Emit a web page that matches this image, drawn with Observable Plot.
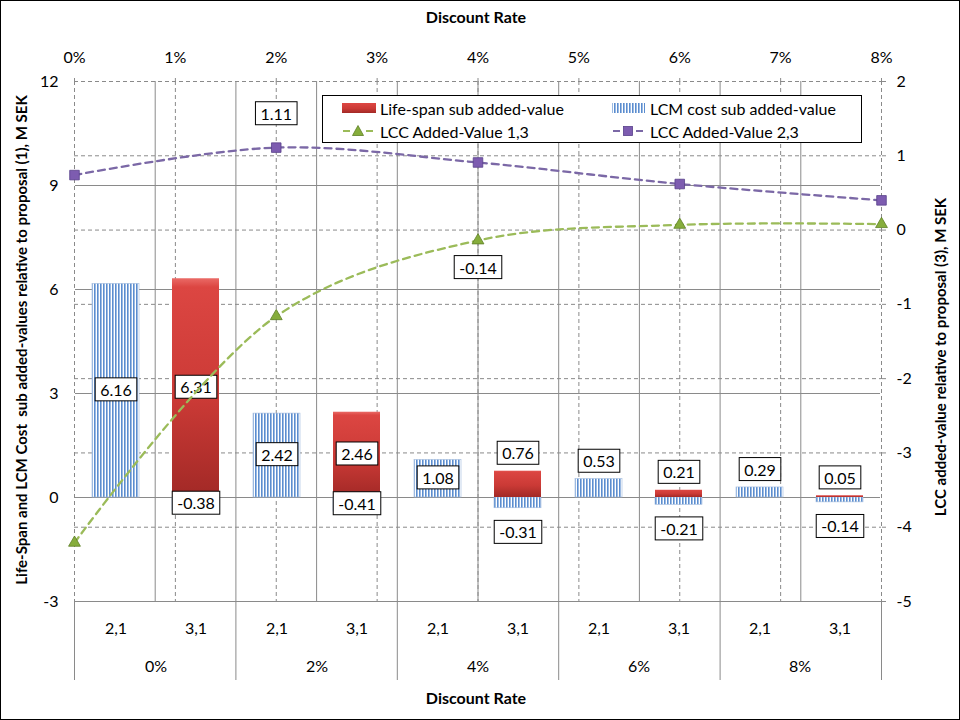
<!DOCTYPE html>
<html>
<head>
<meta charset="utf-8">
<script src="https://cdn.jsdelivr.net/npm/d3@7"></script>
<script src="https://cdn.jsdelivr.net/npm/@observablehq/plot@0.6"></script>
<style>
  body { margin: 0; background: #fff; }
  #chart { position: relative; width: 960px; height: 720px; background: #fff; overflow: hidden;
           font-family: Lato, "Noto Sans", sans-serif; color: #000; }
  #chart > svg.layer { position: absolute; left: 0; top: 0; }
  #frame { position: absolute; left: 0; top: 0; width: 960px; height: 720px; box-sizing: border-box;
           border: 1px solid #000; pointer-events: none; }
  .ttl { position: absolute; font-weight: bold; font-size: 16px; white-space: nowrap; }
  .rot { transform: translate(-50%, -50%) rotate(-90deg); }
  #legend { position: absolute; left: 322px; top: 95px; width: 540px; height: 48px; box-sizing: border-box;
            border: 1px solid #000; background: #fff; font-size: 16px; }
  .li { position: absolute; display: flex; align-items: center; white-space: nowrap; height: 20px; }
  .li svg { margin-right: 3px; }
</style>
</head>
<body>
<svg width="0" height="0" style="position:absolute">
  <defs>
    <linearGradient id="redGrad" x1="0" y1="0" x2="0" y2="1">
      <stop offset="0" stop-color="#ea6a66"/>
      <stop offset="0.04" stop-color="#dc4642"/>
      <stop offset="0.55" stop-color="#cb3a36"/>
      <stop offset="1" stop-color="#a22926"/>
    </linearGradient>
    <pattern id="stripes" patternUnits="userSpaceOnUse" width="3" height="6">
      <rect x="0" y="0" width="3" height="6" fill="#ffffff"/>
      <rect x="0" y="0" width="1.6" height="6" fill="#5b8dcf"/>
    </pattern>
  </defs>
</svg>
<div id="chart">
  <div class="ttl" style="left:476px;top:16px;transform:translate(-50%,-50%)">Discount Rate</div>
  <div class="ttl" style="left:476px;top:697px;transform:translate(-50%,-50%)">Discount Rate</div>
  <div class="ttl rot" style="left:21px;top:340px;font-size:15px">Life-Span and LCM Cost&nbsp; sub added-values relative to proposal (1), M SEK</div>
  <div class="ttl rot" style="left:940px;top:357px;font-size:15px">LCC added-value relative to proposal (3), M SEK</div>
</div>
<script>
// ---------------- data ----------------
const rates = ["0%", "2%", "4%", "6%", "8%"];
const rateNum = [0, 0.02, 0.04, 0.06, 0.08];
const proposals = ["2,1", "3,1"];
const lifeSpan21 = [0, 0, 0, 0, 0];
const lifeSpan31 = [6.31, 2.46, 0.76, 0.21, 0.05];
const lcmCost21 = [6.16, 2.42, 1.08, 0.53, 0.29];
const lcmCost31 = [-0.38, -0.41, -0.31, -0.21, -0.14];
const lcc13 = [-4.21, -1.16, -0.14, 0.07, 0.08];
const lcc23 = [0.74, 1.11, 0.91, 0.62, 0.40];
const lcc13Labelled = [0.04];
const lcc23Labelled = [0.02];
const leftTicks = [-3, 0, 3, 6, 9, 12];
const rightTicks = [-5, -4, -3, -2, -1, 0, 1, 2];
const topTicks = [0, 0.01, 0.02, 0.03, 0.04, 0.05, 0.06, 0.07, 0.08];
const seriesNames = ["Life-span sub added-value", "LCM cost sub added-value", "LCC Added-Value 1,3", "LCC Added-Value 2,3"];

// ---------------- layout / style ----------------
const W = 960, H = 720, mL = 74, mR = 79, mT = 81, mB = 119;
const FONT = 'Lato, "Noto Sans", sans-serif';
const GRID = "#8a8a8a";
const GREEN = "#9bbb59", PURPLE = "#7b68a6";
const intFmt = d => String(d);
const base = {width: W, height: H, marginLeft: mL, marginRight: mR, marginTop: mT, marginBottom: mB,
  style: {background: "transparent", fontFamily: FONT, fontSize: "16px", color: "#000", overflow: "visible"}};

const nCats = rates.length * proposals.length;
const span = rateNum[rateNum.length - 1] - rateNum[0];
const catBounds = d3.range(1, nCats).map(i => rateNum[0] + i * span / nCats);
const groupBounds = d3.range(0, rates.length + 1).map(i => rateNum[0] + i * span / rates.length);

// ---------------- layer 1: dashed grid, top & right axes ----------------
const gridPlot = Plot.plot({
  ...base,
  x: {domain: [rateNum[0], rateNum[rateNum.length - 1]]},
  y: {domain: [rightTicks[0], rightTicks[rightTicks.length - 1]]},
  marks: [
    Plot.ruleY(rightTicks, {stroke: GRID, strokeDasharray: "4,3"}),
    Plot.ruleX(topTicks, {stroke: GRID, strokeDasharray: "4,3"}),
    Plot.ruleX(catBounds, {stroke: GRID}),
    Plot.ruleX(groupBounds, {stroke: GRID, insetTop: H - mT - mB, insetBottom: -79}),
    Plot.axisX(topTicks, {anchor: "top", tickFormat: d3.format(".0%"), tickSize: 4, tickPadding: 15,
      stroke: GRID, fill: "#000", label: null}),
    Plot.axisY(rightTicks, {anchor: "right", tickFormat: intFmt, tickSize: 4, tickPadding: 11, stroke: GRID, fill: "#000", label: null})
  ]
});

// ---------------- layer 2: bars ----------------
const barRows = rates.flatMap((r, i) => [
  {rate: r, prop: proposals[0], series: "lcm", value: lcmCost21[i]},
  {rate: r, prop: proposals[1], series: "lcm", value: lcmCost31[i]},
  {rate: r, prop: proposals[0], series: "life", value: lifeSpan21[i]},
  {rate: r, prop: proposals[1], series: "life", value: lifeSpan31[i]}
]).filter(d => d.value !== 0);
const inside = d => d.value >= 1 || d.value <= -0.35;
const fmt = v => v.toFixed(2);

const barPlot = Plot.plot({
  ...base,
  fx: {domain: rates, padding: 0, axis: "bottom", tickSize: 0, tickPadding: 59, label: null},
  x: {domain: proposals, paddingInner: 0.41, paddingOuter: 0.205, axis: "bottom", tickSize: 0, tickPadding: 21, label: null},
  y: {domain: [leftTicks[0], leftTicks[leftTicks.length - 1]], ticks: leftTicks, tickFormat: intFmt, axis: "left", tickSize: 0, tickPadding: 17, label: null},
  marks: [
    Plot.ruleY(leftTicks.slice(0, -1), {stroke: GRID}),
    Plot.barY(barRows.filter(d => d.series === "lcm"), {fx: "rate", x: "prop", y: "value", fill: "url(#stripes)",
      stroke: "#9fb9dc", strokeWidth: 0.6}),
    Plot.barY(barRows.filter(d => d.series === "life"), {fx: "rate", x: "prop", y: "value", fill: "url(#redGrad)"}),
    Plot.text(barRows.filter(inside), {fx: "rate", x: "prop", y: d => d.value / 2, text: d => fmt(d.value),
      fontSize: 16, fill: "#000"}),
    Plot.text(barRows.filter(d => !inside(d) && d.value > 0), {fx: "rate", x: "prop", y: "value", dy: -17,
      text: d => fmt(d.value), fontSize: 16, fill: "#000"}),
    Plot.text(barRows.filter(d => !inside(d) && d.value < 0), {fx: "rate", x: "prop", y: "value", dy: 25,
      text: d => fmt(d.value), fontSize: 16, fill: "#000"})
  ]
});

// ---------------- layer 3: lines ----------------
const l13 = rateNum.map((r, i) => ({rate: r, v: lcc13[i]}));
const l23 = rateNum.map((r, i) => ({rate: r, v: lcc23[i]}));
const linePlot = Plot.plot({
  ...base,
  x: {domain: [rateNum[0], rateNum[rateNum.length - 1]], axis: null},
  y: {domain: [rightTicks[0], rightTicks[rightTicks.length - 1]], axis: null},
  marks: [
    Plot.line(l13, {x: "rate", y: "v", stroke: GREEN, strokeWidth: 2.3, strokeDasharray: "7,5", curve: "catmull-rom"}),
    Plot.line(l23, {x: "rate", y: "v", stroke: PURPLE, strokeWidth: 2.3, strokeDasharray: "7,5", curve: "catmull-rom"}),
    Plot.dot(l13, {x: "rate", y: "v", symbol: "triangle", r: 4.4, fill: "#86ad3c", stroke: "#5d7f25", strokeWidth: 0.8}),
    Plot.dot(l23, {x: "rate", y: "v", symbol: "square", r: 5.4, fill: "#7d5cb0", stroke: "#58408a", strokeWidth: 0.8}),
    Plot.text(l23.filter(d => lcc23Labelled.includes(d.rate)), {x: "rate", y: "v", dy: -33, text: d => fmt(d.v),
      fontSize: 16, fill: "#000"}),
    Plot.text(l13.filter(d => lcc13Labelled.includes(d.rate)), {x: "rate", y: "v", dy: 28, text: d => fmt(d.v),
      fontSize: 16, fill: "#000"})
  ]
});

const chart = document.getElementById("chart");
const firstTitle = chart.firstChild;
[gridPlot, barPlot, linePlot].forEach(s => { s.classList.add("layer"); chart.insertBefore(s, firstTitle); });

// boxed data labels
function boxify(svg) {
  svg.querySelectorAll('g[aria-label="text"] text').forEach(t => {
    const b = t.getBBox();
    const r = document.createElementNS("http://www.w3.org/2000/svg", "rect");
    r.setAttribute("x", b.x - 5);
    r.setAttribute("y", b.y - 2);
    r.setAttribute("width", b.width + 10);
    r.setAttribute("height", b.height + 4);
    r.setAttribute("fill", "#fff");
    r.setAttribute("stroke", "#000");
    r.setAttribute("stroke-width", "1");
    const tr = t.getAttribute("transform");
    if (tr) r.setAttribute("transform", tr);
    t.parentNode.insertBefore(r, t);
  });
}
boxify(barPlot);
boxify(linePlot);

// legend
const legend = document.createElement("div");
legend.id = "legend";
const sw = {
  red: '<svg width="36" height="14"><rect x="1" y="2" width="34" height="10" fill="url(#redGrad)"/></svg>',
  blue: '<svg width="36" height="14"><rect x="1" y="2" width="33" height="10" fill="url(#stripes)"/></svg>',
  green: `<svg width="36" height="14"><line x1="2" x2="9" y1="7" y2="7" stroke="${GREEN}" stroke-width="2"/><line x1="25" x2="32" y1="7" y2="7" stroke="${GREEN}" stroke-width="2"/><path d="M17,1.5 L22.5,11.5 L11.5,11.5 Z" fill="#86ad3c" stroke="#5d7f25" stroke-width="0.8"/></svg>`,
  purple: `<svg width="36" height="14"><line x1="2" x2="9" y1="7" y2="7" stroke="${PURPLE}" stroke-width="2"/><line x1="25" x2="32" y1="7" y2="7" stroke="${PURPLE}" stroke-width="2"/><rect x="12.5" y="2.5" width="9" height="9" fill="#7d5cb0" stroke="#58408a" stroke-width="0.8"/></svg>`
};
const items = [
  {left: 18, top: 2, swatch: sw.red, name: seriesNames[0]},
  {left: 288, top: 2, swatch: sw.blue, name: seriesNames[1]},
  {left: 18, top: 25, swatch: sw.green, name: seriesNames[2]},
  {left: 288, top: 25, swatch: sw.purple, name: seriesNames[3]}
];
items.forEach(it => {
  const d = document.createElement("div");
  d.className = "li";
  d.style.left = it.left + "px";
  d.style.top = it.top + "px";
  d.innerHTML = it.swatch + "<span>" + it.name + "</span>";
  legend.appendChild(d);
});
chart.appendChild(legend);
const frame = document.createElement("div");
frame.id = "frame";
chart.appendChild(frame);
</script>
</body>
</html>
